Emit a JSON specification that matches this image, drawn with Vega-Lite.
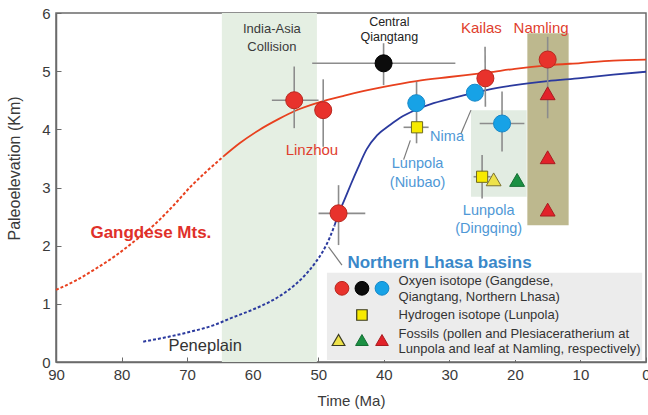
{
  "$schema": "https://vega.github.io/schema/vega-lite/v6.json",
  "width": 590,
  "height": 349,
  "autosize": {"type": "none"},
  "padding": {"left": 56, "top": 13, "right": 2, "bottom": 53},
  "background": "#ffffff",
  "config": {"font": "Liberation Sans", "view": {"stroke": "#6b6b6b", "strokeWidth": 1.5}},
  "datasets": {
    "boxes": [
      {"t": 64.7, "t2": 50.2, "v": 0, "v2": 6, "zone": "collision"},
      {"t": 26.7, "t2": 18.2, "v": 2.84, "v2": 4.33, "zone": "dingqing"},
      {"t": 18.1, "t2": 11.8, "v": 2.35, "v2": 5.65, "zone": "namling"},
      {"t": 48.67, "t2": 0.58, "v": 0.034, "v2": 1.535, "zone": "key"}
    ],
    "curves": [
      {"t": 90, "v": 1.24, "curve": "G", "part": "dot"},
      {"t": 87, "v": 1.4, "curve": "G", "part": "dot"},
      {"t": 84, "v": 1.6, "curve": "G", "part": "dot"},
      {"t": 81, "v": 1.82, "curve": "G", "part": "dot"},
      {"t": 78, "v": 2.08, "curve": "G", "part": "dot"},
      {"t": 75, "v": 2.36, "curve": "G", "part": "dot"},
      {"t": 72, "v": 2.7, "curve": "G", "part": "dot"},
      {"t": 69.5, "v": 3.01, "curve": "G", "part": "dot"},
      {"t": 67, "v": 3.28, "curve": "G", "part": "dot"},
      {"t": 64.5, "v": 3.53, "curve": "G", "part": "dot"},
      {"t": 64.5, "v": 3.53, "curve": "G", "part": "solid"},
      {"t": 62, "v": 3.76, "curve": "G", "part": "solid"},
      {"t": 59, "v": 3.99, "curve": "G", "part": "solid"},
      {"t": 56, "v": 4.18, "curve": "G", "part": "solid"},
      {"t": 53.5, "v": 4.32, "curve": "G", "part": "solid"},
      {"t": 50, "v": 4.46, "curve": "G", "part": "solid"},
      {"t": 46, "v": 4.58, "curve": "G", "part": "solid"},
      {"t": 43, "v": 4.66, "curve": "G", "part": "solid"},
      {"t": 40, "v": 4.73, "curve": "G", "part": "solid"},
      {"t": 35, "v": 4.83, "curve": "G", "part": "solid"},
      {"t": 30, "v": 4.9, "curve": "G", "part": "solid"},
      {"t": 24, "v": 4.98, "curve": "G", "part": "solid"},
      {"t": 20, "v": 5.04, "curve": "G", "part": "solid"},
      {"t": 15, "v": 5.1, "curve": "G", "part": "solid"},
      {"t": 10, "v": 5.14, "curve": "G", "part": "solid"},
      {"t": 5, "v": 5.18, "curve": "G", "part": "solid"},
      {"t": 0, "v": 5.2, "curve": "G", "part": "solid"},
      {"t": 76.7, "v": 0.35, "curve": "N", "part": "dot"},
      {"t": 73, "v": 0.43, "curve": "N", "part": "dot"},
      {"t": 69.5, "v": 0.52, "curve": "N", "part": "dot"},
      {"t": 66, "v": 0.63, "curve": "N", "part": "dot"},
      {"t": 63.4, "v": 0.75, "curve": "N", "part": "dot"},
      {"t": 60, "v": 0.9, "curve": "N", "part": "dot"},
      {"t": 57.3, "v": 1.04, "curve": "N", "part": "dot"},
      {"t": 55, "v": 1.2, "curve": "N", "part": "dot"},
      {"t": 52.2, "v": 1.47, "curve": "N", "part": "dot"},
      {"t": 50.5, "v": 1.7, "curve": "N", "part": "dot"},
      {"t": 49.2, "v": 1.92, "curve": "N", "part": "dot"},
      {"t": 48.2, "v": 2.15, "curve": "N", "part": "dot"},
      {"t": 47.5, "v": 2.35, "curve": "N", "part": "dot"},
      {"t": 47.5, "v": 2.35, "curve": "N", "part": "solid"},
      {"t": 46.9, "v": 2.55, "curve": "N", "part": "solid"},
      {"t": 46.1, "v": 2.76, "curve": "N", "part": "solid"},
      {"t": 45, "v": 3.06, "curve": "N", "part": "solid"},
      {"t": 44, "v": 3.32, "curve": "N", "part": "solid"},
      {"t": 42.6, "v": 3.66, "curve": "N", "part": "solid"},
      {"t": 41, "v": 3.9, "curve": "N", "part": "solid"},
      {"t": 39, "v": 4.08, "curve": "N", "part": "solid"},
      {"t": 37.5, "v": 4.2, "curve": "N", "part": "solid"},
      {"t": 35, "v": 4.34, "curve": "N", "part": "solid"},
      {"t": 32.4, "v": 4.45, "curve": "N", "part": "solid"},
      {"t": 28, "v": 4.58, "curve": "N", "part": "solid"},
      {"t": 24.2, "v": 4.68, "curve": "N", "part": "solid"},
      {"t": 20, "v": 4.76, "curve": "N", "part": "solid"},
      {"t": 15, "v": 4.83, "curve": "N", "part": "solid"},
      {"t": 10, "v": 4.88, "curve": "N", "part": "solid"},
      {"t": 5, "v": 4.94, "curve": "N", "part": "solid"},
      {"t": 0, "v": 4.99, "curve": "N", "part": "solid"}
    ],
    "segs": [
      {"t": 57.07, "v": 4.5, "t2": 49.95, "v2": 4.5, "kind": "err"},
      {"t": 53.66, "v": 5.08, "t2": 53.66, "v2": 4.02, "kind": "err"},
      {"t": 49.24, "v": 4.86, "t2": 49.24, "v2": 3.7, "kind": "err"},
      {"t": 49.95, "v": 2.556, "t2": 42.82, "v2": 2.556, "kind": "err"},
      {"t": 46.9, "v": 3.04, "t2": 46.9, "v2": 2.01, "kind": "err"},
      {"t": 24.55, "v": 5.42, "t2": 24.5, "v2": 4.39, "kind": "err"},
      {"t": 15, "v": 5.59, "t2": 15, "v2": 4.19, "kind": "err"},
      {"t": 50.92, "v": 5.135, "t2": 29.08, "v2": 5.135, "kind": "err"},
      {"t": 40.03, "v": 5.48, "t2": 40.03, "v2": 4.76, "kind": "err"},
      {"t": 35.0, "v": 4.82, "t2": 35.0, "v2": 3.76, "kind": "err"},
      {"t": 25.37, "v": 4.1, "t2": 18.55, "v2": 4.1, "kind": "err"},
      {"t": 21.96, "v": 4.65, "t2": 21.96, "v2": 3.62, "kind": "err"},
      {"t": 36.98, "v": 4.035, "t2": 33.16, "v2": 4.035, "kind": "err"},
      {"t": 25.0, "v": 3.56, "t2": 25.0, "v2": 2.81, "kind": "err"},
      {"t": 26.3, "v": 3.185, "t2": 23.7, "v2": 3.185, "kind": "err"},
      {"t": 35.95, "v": 3.81, "t2": 36.97, "v2": 3.48, "kind": "lead"},
      {"t": 26.7, "v": 4.33, "t2": 28.25, "v2": 3.92, "kind": "lead"},
      {"t": 48.43, "v": 1.98, "t2": 46.38, "v2": 1.667, "kind": "lead"}
    ],
    "pts": [
      {"t": 53.66, "v": 4.5, "kind": "gO", "set": "obs"},
      {"t": 49.24, "v": 4.33, "kind": "gO", "set": "obs"},
      {"t": 46.9, "v": 2.556, "kind": "gO", "set": "obs"},
      {"t": 24.5, "v": 4.877, "kind": "gO", "set": "obs"},
      {"t": 15.0, "v": 5.2, "kind": "gO", "set": "obs"},
      {"t": 40.03, "v": 5.135, "kind": "qO", "set": "obs"},
      {"t": 35.04, "v": 4.45, "kind": "nO", "set": "obs"},
      {"t": 26.1, "v": 4.63, "kind": "nO", "set": "obs"},
      {"t": 21.96, "v": 4.1, "kind": "nO", "set": "obs"},
      {"t": 34.93, "v": 4.035, "kind": "H", "set": "obs"},
      {"t": 25.0, "v": 3.185, "kind": "H", "set": "obs"},
      {"t": 23.24, "v": 3.14, "kind": "fY", "set": "obs"},
      {"t": 19.66, "v": 3.13, "kind": "fG", "set": "obs"},
      {"t": 15.0, "v": 4.62, "kind": "fR", "set": "obs"},
      {"t": 15.0, "v": 3.52, "kind": "fR", "set": "obs"},
      {"t": 15.0, "v": 2.62, "kind": "fR", "set": "obs"},
      {"t": 46.38, "v": 1.267, "kind": "gO", "set": "key"},
      {"t": 43.33, "v": 1.267, "kind": "qO", "set": "key"},
      {"t": 40.27, "v": 1.267, "kind": "nO", "set": "key"},
      {"t": 43.33, "v": 0.808, "kind": "H", "set": "key"},
      {"t": 46.9, "v": 0.378, "kind": "fY", "set": "key"},
      {"t": 43.33, "v": 0.378, "kind": "fG", "set": "key"},
      {"t": 40.27, "v": 0.378, "kind": "fR", "set": "key"}
    ],
    "labels": [
      {"t": 57.07, "v": 5.72, "text": "India-Asia", "grp": "collision"},
      {"t": 57.07, "v": 5.42, "text": "Collision", "grp": "collision"},
      {"t": 39.16, "v": 5.85, "text": "Central", "grp": "qiang"},
      {"t": 39.16, "v": 5.59, "text": "Qiangtang", "grp": "qiang"},
      {"t": 25.11, "v": 5.75, "text": "Kailas", "grp": "gsite"},
      {"t": 16.0, "v": 5.75, "text": "Namling", "grp": "gsite"},
      {"t": 50.96, "v": 3.64, "text": "Linzhou", "grp": "gsite"},
      {"t": 34.84, "v": 3.4, "text": "Lunpola", "grp": "nsite"},
      {"t": 34.84, "v": 3.08, "text": "(Niubao)", "grp": "nsite"},
      {"t": 30.35, "v": 3.87, "text": "Nima", "grp": "nsite"},
      {"t": 24.0, "v": 2.6, "text": "Lunpola", "grp": "nsite"},
      {"t": 24.0, "v": 2.28, "text": "(Dingqing)", "grp": "nsite"},
      {"t": 75.53, "v": 2.21, "text": "Gangdese Mts.", "grp": "gbelt"},
      {"t": 31.5, "v": 1.7, "text": "Northern Lhasa basins", "grp": "nbelt"},
      {"t": 67.25, "v": 0.275, "text": "Peneplain", "grp": "base"},
      {"t": 37.74, "v": 1.398, "text": "Oxyen isotope (Gangdese,", "grp": "key"},
      {"t": 37.74, "v": 1.123, "text": "Qiangtang, Northern Lhasa)", "grp": "key"},
      {"t": 37.74, "v": 0.808, "text": "Hydrogen isotope (Lunpola)", "grp": "key"},
      {"t": 37.74, "v": 0.481, "text": "Fossils (pollen and  Plesiaceratherium at", "grp": "key"},
      {"t": 37.74, "v": 0.218, "text": "Lunpola and leaf at Namling, respectively)", "grp": "key"}
    ]
  },
  "encoding": {
    "x": {
      "field": "t", "type": "quantitative",
      "scale": {"domain": [0, 90], "reverse": true, "nice": false, "zero": false},
      "axis": {
        "title": "Time (Ma)", "values": [0, 10, 20, 30, 40, 50, 60, 70, 80, 90],
        "grid": false, "tickSize": -5, "labelPadding": 10, "labelFlush": false,
        "domainColor": "#6b6b6b", "domainWidth": 1.5, "tickColor": "#6b6b6b", "tickWidth": 1,
        "labelColor": "#3a3a3a", "labelFontSize": 15, "labelFont": "Liberation Sans",
        "titleColor": "#3a3a3a", "titleFontSize": 15, "titleFontWeight": "normal", "titleFont": "Liberation Sans",
        "titlePadding": 11
      }
    },
    "y": {
      "field": "v", "type": "quantitative",
      "scale": {"domain": [0, 6], "nice": false, "zero": false},
      "axis": {
        "title": "Paleoelevation (Km)", "values": [0, 1, 2, 3, 4, 5, 6],
        "grid": false, "tickSize": -5, "labelPadding": 11,
        "domainColor": "#6b6b6b", "domainWidth": 1.5, "tickColor": "#6b6b6b", "tickWidth": 1,
        "labelColor": "#3a3a3a", "labelFontSize": 15, "labelFont": "Liberation Sans",
        "titleColor": "#3a3a3a", "titleFontSize": 16, "titleFontWeight": "normal", "titleFont": "Liberation Sans",
        "titleX": -34, "titleY": 155
      }
    }
  },
  "layer": [
    {"data": {"name": "boxes"}, "transform": [{"filter": "datum.zone === 'collision'"}],
     "mark": {"type": "rect", "fill": "#e5efe3"},
     "encoding": {"x2": {"field": "t2"}, "y2": {"field": "v2"}}},
    {"data": {"name": "boxes"}, "transform": [{"filter": "datum.zone === 'dingqing'"}],
     "mark": {"type": "rect", "fill": "#e2ece2"},
     "encoding": {"x2": {"field": "t2"}, "y2": {"field": "v2"}}},
    {"data": {"name": "boxes"}, "transform": [{"filter": "datum.zone === 'namling'"}],
     "mark": {"type": "rect", "fill": "#bdb88e"},
     "encoding": {"x2": {"field": "t2"}, "y2": {"field": "v2"}}},
    {"data": {"name": "boxes"}, "transform": [{"filter": "datum.zone === 'key'"}],
     "mark": {"type": "rect", "fill": "#ececec"},
     "encoding": {"x2": {"field": "t2"}, "y2": {"field": "v2"}}},
    {"data": {"name": "curves"}, "transform": [{"filter": "datum.curve === 'G' && datum.part === 'dot'"}],
     "mark": {"type": "line", "interpolate": "monotone", "stroke": "#e8401e", "strokeWidth": 2, "strokeDash": [3, 2]}, "encoding": {}},
    {"data": {"name": "curves"}, "transform": [{"filter": "datum.curve === 'G' && datum.part === 'solid'"}],
     "mark": {"type": "line", "interpolate": "monotone", "stroke": "#e8401e", "strokeWidth": 1.8}, "encoding": {}},
    {"data": {"name": "curves"}, "transform": [{"filter": "datum.curve === 'N' && datum.part === 'dot'"}],
     "mark": {"type": "line", "interpolate": "monotone", "stroke": "#2b3a9e", "strokeWidth": 2, "strokeDash": [3, 2]}, "encoding": {}},
    {"data": {"name": "curves"}, "transform": [{"filter": "datum.curve === 'N' && datum.part === 'solid'"}],
     "mark": {"type": "line", "interpolate": "monotone", "stroke": "#2b3a9e", "strokeWidth": 1.8}, "encoding": {}},
    {"data": {"name": "segs"}, "transform": [{"filter": "datum.kind === 'err'"}],
     "mark": {"type": "rule", "stroke": "#8c8c8c", "strokeWidth": 1.6},
     "encoding": {"x2": {"field": "t2"}, "y2": {"field": "v2"}}},
    {"data": {"name": "segs"}, "transform": [{"filter": "datum.kind === 'lead'"}],
     "mark": {"type": "rule", "stroke": "#7a7a7a", "strokeWidth": 1.2},
     "encoding": {"x2": {"field": "t2"}, "y2": {"field": "v2"}}},
    {"data": {"name": "pts"}, "transform": [{"filter": "datum.kind === 'gO' && datum.set === 'obs'"}],
     "mark": {"type": "point", "shape": "circle", "filled": true, "size": 290, "fill": "#e8322c", "stroke": "#b8281f", "strokeWidth": 1, "opacity": 1}},
    {"data": {"name": "pts"}, "transform": [{"filter": "datum.kind === 'qO' && datum.set === 'obs'"}],
     "mark": {"type": "point", "shape": "circle", "filled": true, "size": 290, "fill": "#0c0c0c", "stroke": "#000000", "strokeWidth": 1, "opacity": 1}},
    {"data": {"name": "pts"}, "transform": [{"filter": "datum.kind === 'nO' && datum.set === 'obs'"}],
     "mark": {"type": "point", "shape": "circle", "filled": true, "size": 290, "fill": "#17a2e6", "stroke": "#1788c8", "strokeWidth": 1, "opacity": 1}},
    {"data": {"name": "pts"}, "transform": [{"filter": "datum.kind === 'H' && datum.set === 'obs'"}],
     "mark": {"type": "point", "shape": "square", "filled": true, "size": 125, "fill": "#f7ea00", "stroke": "#6e6a20", "strokeWidth": 1, "opacity": 1}},
    {"data": {"name": "pts"}, "transform": [{"filter": "datum.kind === 'fY' && datum.set === 'obs'"}],
     "mark": {"type": "point", "shape": "triangle-up", "filled": true, "size": 220, "fill": "#eee24a", "stroke": "#7a7030", "strokeWidth": 1, "opacity": 1}},
    {"data": {"name": "pts"}, "transform": [{"filter": "datum.kind === 'fG' && datum.set === 'obs'"}],
     "mark": {"type": "point", "shape": "triangle-up", "filled": true, "size": 220, "fill": "#1b9043", "stroke": "#156e33", "strokeWidth": 1, "opacity": 1}},
    {"data": {"name": "pts"}, "transform": [{"filter": "datum.kind === 'fR' && datum.set === 'obs'"}],
     "mark": {"type": "point", "shape": "triangle-up", "filled": true, "size": 220, "fill": "#e2222a", "stroke": "#a81c20", "strokeWidth": 1, "opacity": 1}},
    {"data": {"name": "pts"}, "transform": [{"filter": "datum.kind === 'gO' && datum.set === 'key'"}],
     "mark": {"type": "point", "shape": "circle", "filled": true, "size": 190, "fill": "#e8322c", "stroke": "#b8281f", "strokeWidth": 1, "opacity": 1}},
    {"data": {"name": "pts"}, "transform": [{"filter": "datum.kind === 'qO' && datum.set === 'key'"}],
     "mark": {"type": "point", "shape": "circle", "filled": true, "size": 190, "fill": "#0c0c0c", "stroke": "#000000", "strokeWidth": 1, "opacity": 1}},
    {"data": {"name": "pts"}, "transform": [{"filter": "datum.kind === 'nO' && datum.set === 'key'"}],
     "mark": {"type": "point", "shape": "circle", "filled": true, "size": 190, "fill": "#17a2e6", "stroke": "#1788c8", "strokeWidth": 1, "opacity": 1}},
    {"data": {"name": "pts"}, "transform": [{"filter": "datum.kind === 'H' && datum.set === 'key'"}],
     "mark": {"type": "point", "shape": "square", "filled": true, "size": 110, "fill": "#f7ea00", "stroke": "#3a3a20", "strokeWidth": 1.2, "opacity": 1}},
    {"data": {"name": "pts"}, "transform": [{"filter": "datum.kind === 'fY' && datum.set === 'key'"}],
     "mark": {"type": "point", "shape": "triangle-up", "filled": true, "size": 160, "fill": "#eee24a", "stroke": "#3a3a20", "strokeWidth": 1.2, "opacity": 1}},
    {"data": {"name": "pts"}, "transform": [{"filter": "datum.kind === 'fG' && datum.set === 'key'"}],
     "mark": {"type": "point", "shape": "triangle-up", "filled": true, "size": 160, "fill": "#1b9043", "stroke": "#156e33", "strokeWidth": 1, "opacity": 1}},
    {"data": {"name": "pts"}, "transform": [{"filter": "datum.kind === 'fR' && datum.set === 'key'"}],
     "mark": {"type": "point", "shape": "triangle-up", "filled": true, "size": 160, "fill": "#e2222a", "stroke": "#a81c20", "strokeWidth": 1, "opacity": 1}},
    {"data": {"name": "labels"}, "transform": [{"filter": "datum.grp === 'collision'"}],
     "mark": {"type": "text", "align": "center", "baseline": "middle", "fontSize": 13, "color": "#3a3a3a", "font": "Liberation Sans"},
     "encoding": {"text": {"field": "text"}}},
    {"data": {"name": "labels"}, "transform": [{"filter": "datum.grp === 'qiang'"}],
     "mark": {"type": "text", "align": "center", "baseline": "middle", "fontSize": 12.5, "color": "#222222", "font": "Liberation Sans"},
     "encoding": {"text": {"field": "text"}}},
    {"data": {"name": "labels"}, "transform": [{"filter": "datum.grp === 'gsite'"}],
     "mark": {"type": "text", "align": "center", "baseline": "middle", "fontSize": 15, "color": "#e03e2e", "font": "Liberation Sans"},
     "encoding": {"text": {"field": "text"}}},
    {"data": {"name": "labels"}, "transform": [{"filter": "datum.grp === 'nsite'"}],
     "mark": {"type": "text", "align": "center", "baseline": "middle", "fontSize": 14.5, "color": "#4f98d6", "font": "Liberation Sans"},
     "encoding": {"text": {"field": "text"}}},
    {"data": {"name": "labels"}, "transform": [{"filter": "datum.grp === 'gbelt'"}],
     "mark": {"type": "text", "align": "center", "baseline": "middle", "fontSize": 17, "fontWeight": "bold", "color": "#e0302a", "font": "Liberation Sans"},
     "encoding": {"text": {"field": "text"}}},
    {"data": {"name": "labels"}, "transform": [{"filter": "datum.grp === 'nbelt'"}],
     "mark": {"type": "text", "align": "center", "baseline": "middle", "fontSize": 17, "fontWeight": "bold", "color": "#3a88c9", "font": "Liberation Sans"},
     "encoding": {"text": {"field": "text"}}},
    {"data": {"name": "labels"}, "transform": [{"filter": "datum.grp === 'base'"}],
     "mark": {"type": "text", "align": "center", "baseline": "middle", "fontSize": 16.5, "color": "#333333", "font": "Liberation Sans"},
     "encoding": {"text": {"field": "text"}}},
    {"data": {"name": "labels"}, "transform": [{"filter": "datum.grp === 'key'"}],
     "mark": {"type": "text", "align": "left", "baseline": "middle", "fontSize": 13, "color": "#333333", "font": "Liberation Sans"},
     "encoding": {"text": {"field": "text"}}}
  ]
}
